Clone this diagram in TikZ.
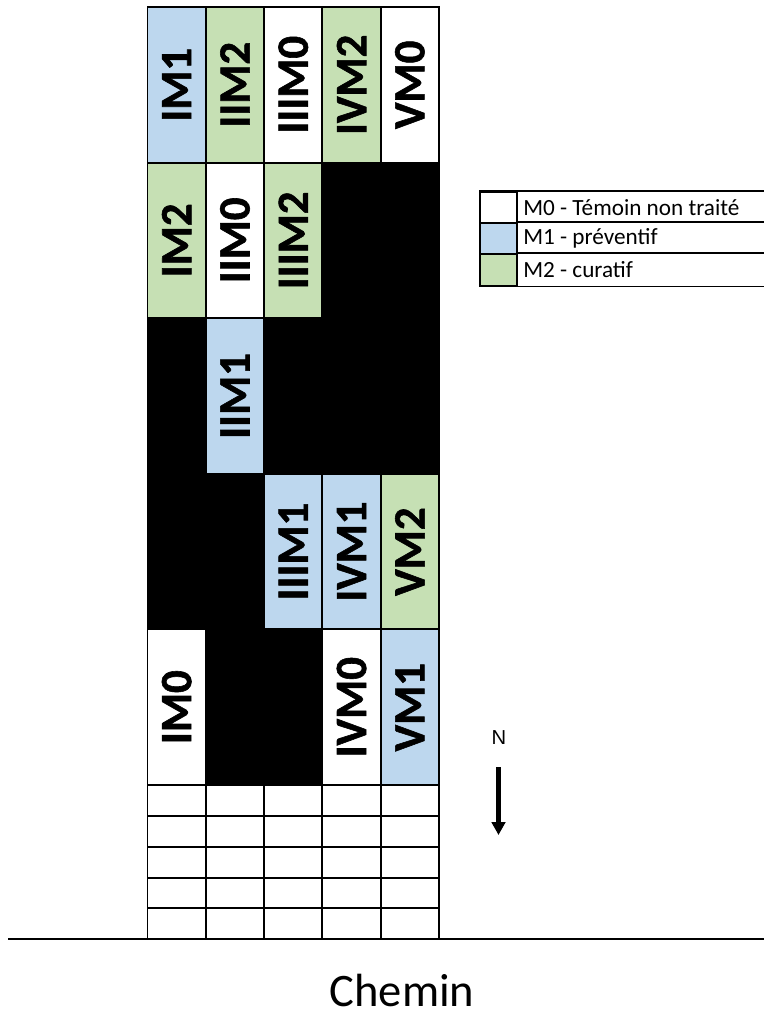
\documentclass[tikz,border=0pt]{standalone}
\usepackage{fontspec}
\setmainfont{Carlito}
\newfontfamily\grasfont{Carlito Bold}[FakeBold=1.3]
\newfontfamily\nordfont{Liberation Sans}
\usetikzlibrary{arrows.meta}
\definecolor{bleu}{HTML}{BDD7EE}
\definecolor{vert}{HTML}{C6E0B4}
\tikzset{
  parcelle/.style={draw, line width=1.1pt, rotate=90, inner sep=0pt,
    minimum width=3.112cm, minimum height=1.166cm,
    font=\grasfont\fontsize{25.5}{26}\selectfont},
  vide/.style={parcelle, fill=black},
  legcase/.style={draw, line width=1.1pt, minimum width=0.734cm, minimum height=0.626cm, inner sep=0pt},
  legtexte/.style={anchor=west, inner sep=0pt, font=\fontsize{13.2}{14}\selectfont}
}
\begin{document}
\begin{tikzpicture}[x=0.02cm, y=-0.02cm]
  \useasboundingbox (0,0) rectangle (764,1034);

  % rang 1
  \node[parcelle, fill=bleu]  (IM1)   at (176.65,84.8) {IM1};
  \node[parcelle, fill=vert]  (IIM2)  at (234.95,84.8) {IIM2};
  \node[parcelle, fill=white] (IIIM0) at (293.25,84.8) {IIIM0};
  \node[parcelle, fill=vert]  (IVM2)  at (351.55,84.8) {IVM2};
  \node[parcelle, fill=white] (VM0)   at (409.85,84.8) {VM0};
  % rang 2
  \node[parcelle, fill=vert]  (IM2)   at (176.65,240.4) {IM2};
  \node[parcelle, fill=white] (IIM0)  at (234.95,240.4) {IIM0};
  \node[parcelle, fill=vert]  (IIIM2) at (293.25,240.4) {IIIM2};
  \node[vide] (n24) at (351.55,240.4) {};
  \node[vide] (n25) at (409.85,240.4) {};
  % rang 3
  \node[vide] (n31) at (176.65,396) {};
  \node[parcelle, fill=bleu]  (IIM1)  at (234.95,396) {IIM1};
  \node[vide] (n33) at (293.25,396) {};
  \node[vide] (n34) at (351.55,396) {};
  \node[vide] (n35) at (409.85,396) {};
  % rang 4
  \node[vide] (n41) at (176.65,551.6) {};
  \node[vide] (n42) at (234.95,551.6) {};
  \node[parcelle, fill=bleu]  (IIIM1) at (293.25,551.6) {IIIM1};
  \node[parcelle, fill=bleu]  (IVM1)  at (351.55,551.6) {IVM1};
  \node[parcelle, fill=vert]  (VM2)   at (409.85,551.6) {VM2};
  % rang 5
  \node[parcelle, fill=white] (IM0)   at (176.65,707.2) {IM0};
  \node[vide] (n52) at (234.95,707.2) {};
  \node[vide] (n53) at (293.25,707.2) {};
  \node[parcelle, fill=white] (IVM0)  at (351.55,707.2) {IVM0};
  \node[parcelle, fill=bleu]  (VM1)   at (409.85,707.2) {VM1};

  % bordure
  \foreach \y in {816, 846.8, 877.6, 908.4}
    \draw[line width=1.1pt] (147.5,\y) -- (439,\y);
  \foreach \x in {147.5, 205.8, 264.1, 322.4, 380.7, 439}
    \draw[line width=1.1pt] (\x,785) -- (\x,939);

  % chemin
  \coordinate (cg) at (8,939);
  \coordinate (cd) at (764,939);
  \draw[line width=1.3pt] (cg) -- (cd);
  \node[font=\fontsize{26.5}{27}\selectfont] (chemin) at (402,990) {Chemin};

  % nord
  \node[font=\nordfont\fontsize{11.5}{12}\selectfont] (N) at (499,738) {N};
  \coordinate (nh) at (498.5,767);
  \coordinate (nb) at (498.5,835);
  \draw[line width=2.6pt, -{Triangle[width=0.27cm, length=0.26cm]}] (nh) -- (nb);

  % legende
  \node[legcase, fill=white] (L0) at (498.35,207.5) {};
  \node[legcase, fill=bleu]  (L1) at (498.35,238.4) {};
  \node[legcase, fill=vert]  (L2) at (498.35,269.9) {};
  \node[legtexte] (T0) at ([xshift=3pt]L0.east) {M0 - Témoin non traité};
  \node[legtexte] (T1) at ([xshift=3pt]L1.east) {M1 - préventif};
  \node[legtexte] (T2) at ([xshift=3pt]L2.east) {M2 - curatif};
  \draw[line width=1.1pt] (L0.north west) -- (764,192.3 |- L0.north);
  \draw[line width=1.1pt] (L1.north east) -- (764,192.3 |- L1.north);
  \draw[line width=1.1pt] (L2.north east) -- (764,192.3 |- L2.north);
  \draw[line width=1.1pt] (L2.south west) -- (764,192.3 |- L2.south);
\end{tikzpicture}
\end{document}
